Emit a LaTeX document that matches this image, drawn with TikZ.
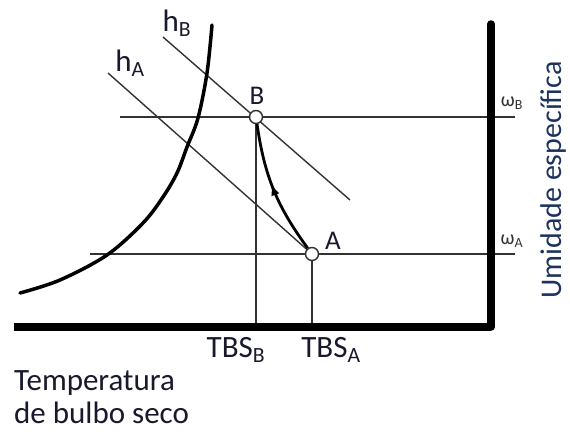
\documentclass[tikz,border=0pt]{standalone}
\usepackage{fontspec}
\setmainfont{Carlito}
\usetikzlibrary{arrows.meta,decorations.markings}
\definecolor{txt}{RGB}{25,25,45}
\definecolor{navy}{RGB}{30,50,95}
\definecolor{ln}{RGB}{50,50,50}
\begin{document}
\begin{tikzpicture}[x=1pt,y=-1pt,
  thinline/.style={draw=ln,line width=1.4pt},
  axisline/.style={draw=black,line width=7.5pt},
  lbl/.style={text=txt,font=\fontsize{31}{34}\selectfont,inner sep=0pt},
  ptlbl/.style={text=txt,font=\fontsize{27}{30}\selectfont,inner sep=0pt},
  omlbl/.style={text=ln,font=\fontsize{20}{22}\selectfont,inner sep=0pt},
  pt/.style={circle,draw=ln,fill=white,line width=1.4pt,minimum size=13pt,inner sep=0pt}]
\useasboundingbox (0,0) rectangle (570,437);
% coordinates
\coordinate (wBl) at (120,117);
\coordinate (wBr) at (515,117);
\coordinate (wAl) at (90,254);
\coordinate (wAr) at (515,254);
\coordinate (hAs) at (108,73);
\coordinate (hBs) at (163,37);
\coordinate (hBe) at (350,200);
\coordinate (Bf) at (256,325);
\coordinate (Af) at (312,325);
\coordinate (ax0) at (14,327);
\coordinate (ax1) at (491,327);
\coordinate (ax2) at (491,24);
% thin lines
\draw[thinline] (wBl) -- (wBr);
\draw[thinline] (wAl) -- (wAr);
\draw[thinline] (hAs) -- (312,254);
\draw[thinline] (hBs) -- (hBe);
\draw[thinline] (256,117) -- (Bf);
\draw[thinline] (312,254) -- (Af);
% axes
\draw[axisline,line cap=round,line join=miter] (ax2) -- (ax1);
\draw[axisline] (ax1) -- (ax0);
% saturation curve
\draw[line width=3.5pt,line cap=round] plot[smooth,tension=0.55] coordinates {(20,293) (60,280) (107,255) (143,223) (163,197) (177,173) (187,147) (198,118) (207,73) (212,25)};
% points
\node[pt] (B) at (256,117) {};
\node[pt] (A) at (312,254) {};
\draw[line width=2.8pt,decoration={markings,mark=at position 0.55 with {\arrow{Latex[length=12pt,width=8.5pt]}}},postaction=decorate]
  (A) to[bend left=14] (B);
% labels
\node[ptlbl] (lB) at (257,96) {B};
\node[ptlbl] (lA) at (333,241) {A};
\node[lbl] (lhB) at (177,23) {h\textsubscript{B}};
\node[lbl] (lhA) at (130,63) {h\textsubscript{A}};
\node[lbl] (tB) at (236,350) {TBS\textsubscript{B}};
\node[lbl] (tA) at (331,350) {TBS\textsubscript{A}};
\node[omlbl] (oB) at (512,103) {ω\textsubscript{B}};
\node[omlbl] (oA) at (512,241) {ω\textsubscript{A}};
\node[text=navy,font=\fontsize{30}{33}\selectfont,inner sep=0pt,rotate=90] (um) at (553,180) {Umidade específica};
\node[lbl,anchor=north west,align=left,font=\fontsize{31}{33}\selectfont] (temp) at (14,370) {Temperatura\\de bulbo seco};
\end{tikzpicture}
\end{document}
